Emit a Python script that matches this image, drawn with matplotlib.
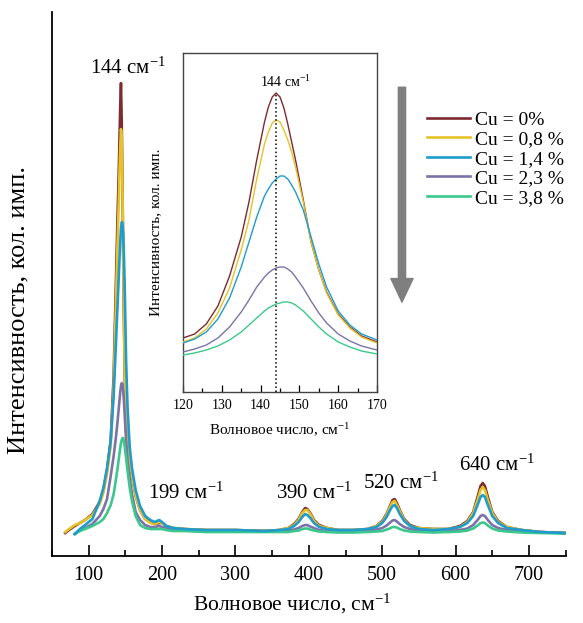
import numpy as np
import matplotlib.pyplot as plt
from matplotlib.ticker import MultipleLocator

plt.rcParams['font.family'] = 'Liberation Serif'
plt.rcParams['mathtext.fontset'] = 'custom'
plt.rcParams['mathtext.rm'] = 'Liberation Serif'
plt.rcParams['mathtext.it'] = 'Liberation Serif:italic'
plt.rcParams['mathtext.bf'] = 'Liberation Serif:bold'

nan = np.nan

labels = ['Cu = 0%', 'Cu = 0,8 %', 'Cu = 1,4 %', 'Cu = 2,3 %', 'Cu = 3,8 %']
colors = ['#7d2b2f', '#e6c229', '#1f9ccc', '#7b73a8', '#3cc88c']

# Raman spectra, whole range (wavenumber in cm-1, intensity in arb. units)
wavenumber = [68, 75, 81, 88, 95, 105, 115, 120, 125, 130,
              134, 137, 139, 141, 142, 143, 144, 145, 146, 147,
              148, 149, 151, 153, 156, 159, 164, 170, 177, 184,
              190, 196, 200, 206, 215, 230, 260, 300, 340, 360,
              372, 380, 386, 391, 395, 398, 402, 407, 414, 425,
              440, 460, 480, 492, 500, 506, 510, 514, 517, 520,
              524, 530, 538, 550, 570, 590, 606, 616, 624, 630,
              634, 637, 640, 644, 650, 658, 670, 690, 715, 750]

cu_0 = [23, 27, 30, 33, 36, 42, 54, 66, 86, 116,
        180, 270, 330, 385, 418, 450, 473, 435, 375, 305,
        240, 185, 125, 107, 92, 80, 60, 46, 37, 34,
        32, 33, 33, 30, 28, 27, 26, 26, 25, 26,
        28, 32, 37, 44, 48, 47, 43, 36, 31, 28,
        26, 26, 27, 30, 35, 42, 49, 56, 57, 53,
        46, 37, 31, 28, 27, 27, 30, 35, 44, 59,
        70, 73, 70, 59, 44, 35, 29, 26, 24, 23]

cu_08 = [24, 28, 31, 33, 36, 41, 52, 63, 82, 110,
         168, 250, 305, 355, 385, 410, 427, 420, 370, 305,
         242, 188, 128, 108, 93, 81, 60, 46, 37, 33,
         32, 34, 33, 30, 28, 27, 26, 26, 25, 26,
         28, 31, 36, 43, 46, 46, 42, 35, 30, 28,
         26, 26, 27, 30, 34, 41, 48, 54, 55, 51,
         45, 36, 30, 28, 27, 27, 29, 34, 43, 56,
         66, 69, 66, 56, 43, 34, 29, 26, 24, 23]

cu_14 = [nan, nan, 22, 27, 31, 37, 55, 68, 88, 115,
         160, 210, 245, 280, 298, 315, 327, 334, 333, 322,
         300, 272, 195, 148, 108, 88, 66, 50, 40, 36,
         34, 36, 34, 30, 28, 27, 26, 26, 25, 26,
         27, 30, 34, 39, 42, 41, 38, 33, 29, 27,
         26, 26, 27, 29, 33, 39, 45, 50, 51, 48,
         42, 35, 30, 27, 26, 27, 29, 33, 40, 51,
         59, 61, 59, 51, 40, 33, 28, 26, 24, 23]

cu_23 = [nan, nan, 22, 26, 28, 32, 40, 47, 57, 80,
         100, 118, 132, 148, 156, 164, 170, 173, 172, 166,
         155, 142, 115, 95, 77, 62, 44, 36, 31, 29,
         29, 30, 29, 28, 27, 26, 25, 25, 25, 25,
         25.5, 26.5, 28, 30, 31, 31, 29.5, 28, 26, 25,
         25, 25, 25.5, 26.5, 28, 30.5, 33, 35.5, 36, 34.5,
         32, 29, 27, 25.5, 25, 25, 26, 27.5, 31, 36,
         40, 41, 40, 36, 31, 28, 26, 25, 24, 23]

cu_38 = [nan, nan, 22, 25, 27, 30, 34, 37, 43, 51,
         62, 76, 86, 97, 103, 108, 113, 116, 118, 118,
         115, 110, 98, 85, 68, 55, 40, 31, 28, 27,
         27, 27, 27, 26, 25, 25, 24, 24, 24, 24,
         24, 25, 25.5, 27, 27.5, 27.5, 26.5, 25.5, 24.5, 24,
         23.5, 23.5, 24, 24.5, 25, 26.5, 27.5, 29, 29, 28.5,
         27, 25.5, 24.5, 24, 23.5, 24, 24.5, 25.5, 27.5, 30.5,
         33, 33.5, 33, 30.5, 27.5, 25.5, 24.5, 23.5, 23, 22.5]

# zoom on the 144 cm-1 band (inset)
wavenumber_zoom = [120, 123, 126, 129, 132, 135, 137, 139, 141, 142, 143, 144, 145,
                   146, 147, 148, 149, 151, 153, 155, 157, 160, 163, 166, 170]
zoom_0 = [54, 58, 68, 86, 116, 155, 190, 232, 270, 285, 295, 299, 295,
          284, 268, 250, 232, 192, 150, 122, 100, 78, 65, 56, 50]
zoom_08 = [50, 54, 63, 79, 104, 142, 172, 213, 248, 260, 269, 272, 270,
           262, 252, 240, 225, 190, 150, 122, 99, 77, 64, 55, 49]
zoom_14 = [49, 53, 60, 73, 94, 125, 150, 175, 196, 203, 209, 213, 216,
           216, 213, 207, 200, 182, 155, 128, 105, 81, 67, 58, 52]
zoom_23 = [40, 43, 47, 54, 65, 80, 92, 105, 115, 119, 122, 124, 125,
           125, 123, 120, 115, 104, 91, 79, 69, 58, 51, 46, 42]
zoom_38 = [37, 39, 42, 46, 52, 60, 67, 74, 81, 84, 86, 88, 89,
           90, 90, 89, 87, 81, 73, 65, 58, 50, 45, 41, 38]

peak_labels = ['144', '199', '390', '520', '640']
peak_label_x = [153, 233, 407, 526, 656]
peak_label_y = [488, 63, 63, 73, 91]

main_series = [cu_0, cu_08, cu_14, cu_23, cu_38]
zoom_series = [zoom_0, zoom_08, zoom_14, zoom_23, zoom_38]
layer = [2, 3, 6, 4, 5]

fig = plt.figure(figsize=(5.83, 6.23), dpi=100)

# main spectrum
ax = fig.add_axes([0.0892, 0.1075, 0.881, 0.873])
for values, lab, col, z in zip(main_series, labels, colors, layer):
    ax.plot(wavenumber, values, color=col, lw=1.9, label=lab, zorder=z)

ax.set_xlim(50, 750)
ax.set_ylim(0, 544)
ax.spines['top'].set_visible(False)
ax.spines['right'].set_visible(False)
ax.spines['left'].set_linewidth(1.3)
ax.spines['bottom'].set_linewidth(1.3)
ax.set_yticks([])
ax.set_xticks(range(100, 701, 100))
ax.xaxis.set_minor_locator(MultipleLocator(50))
ax.tick_params(axis='x', which='major', direction='in', length=8, width=1.2,
               labelsize=14.5, pad=7)
ax.tick_params(axis='x', which='minor', direction='in', length=4, width=1.2)
ax.set_xlabel('Волновое число, см$^{-1}$', fontsize=15.5, labelpad=5)
ax.xaxis.label.set_x(0.467)
ax.set_ylabel('Интенсивность, кол. имп.', fontsize=19)
ax.yaxis.set_label_coords(-0.043, 0.452)

for txt, px, py in zip(peak_labels, peak_label_x, peak_label_y):
    ax.text(px, py, txt + ' см$^{-1}$', ha='center', va='center', fontsize=15)

ax.legend(loc='upper left', bbox_to_anchor=(0.732, 0.822),
          bbox_transform=fig.transFigure, frameon=False, fontsize=14,
          handlelength=2.2, handletextpad=0.3, labelspacing=0.1,
          borderpad=0, borderaxespad=0)

# grey arrow: intensity drops with Cu content
ax.annotate('', xy=(0.6895, 0.515), xycoords='figure fraction',
            xytext=(0.6895, 0.860), textcoords='figure fraction',
            arrowprops=dict(arrowstyle='simple,head_length=0.85,head_width=0.8,tail_width=0.26',
                            mutation_scale=20, color='#7f7f7f',
                            shrinkA=0, shrinkB=0))

# inset
ax_in = fig.add_axes([0.3139, 0.3708, 0.3328, 0.5441])
for values, col, z in zip(zoom_series, colors, layer):
    ax_in.plot(wavenumber_zoom, values, color=col, lw=1.0, zorder=z)
ax_in.vlines(144, 0, max(zoom_0), colors='black', linestyles=':', lw=1.1, zorder=7)
ax_in.text(146.5, 310, '144 см$^{-1}$', ha='center', va='center', fontsize=10)

ax_in.set_xlim(120, 170)
ax_in.set_ylim(0, 339)
ax_in.set_yticks([])
ax_in.set_xticks(range(120, 171, 10))
ax_in.xaxis.set_minor_locator(MultipleLocator(5))
ax_in.tick_params(axis='x', which='major', direction='in', length=5, width=0.9,
                  labelsize=10, pad=5)
ax_in.tick_params(axis='x', which='minor', direction='in', length=3, width=0.9)
for sp in ax_in.spines.values():
    sp.set_color('#444444')
    sp.set_linewidth(1.0)
ax_in.set_xlabel('Волновое число, см$^{-1}$', fontsize=11, labelpad=7)
ax_in.set_ylabel('Интенсивность, кол. имп.', fontsize=11)
ax_in.yaxis.set_label_coords(-0.108, 0.47)

fig.savefig('out.png', dpi=100)
